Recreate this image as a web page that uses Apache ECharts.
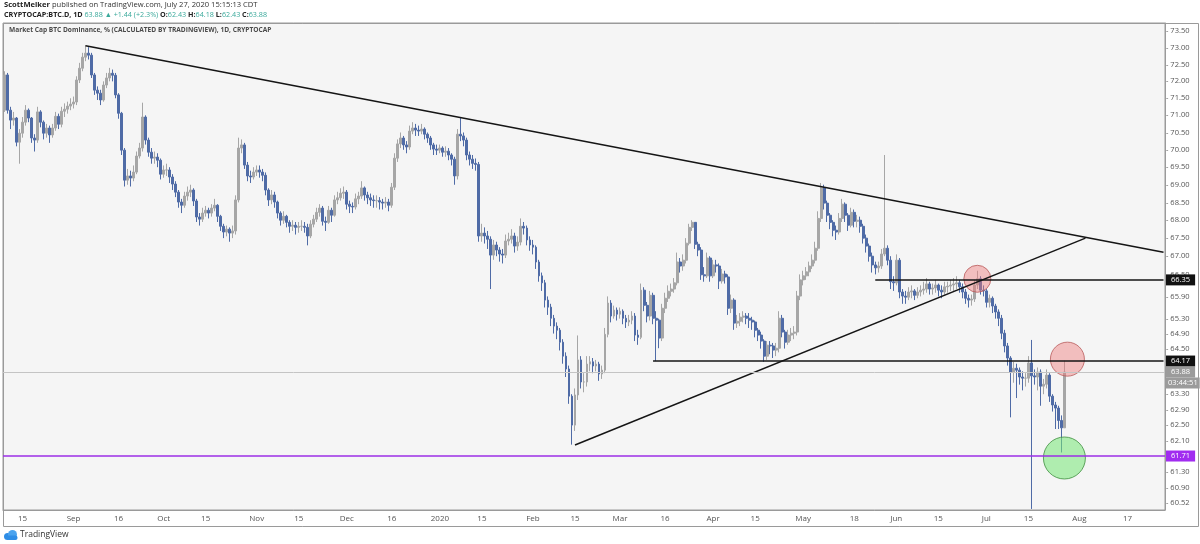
<!DOCTYPE html>
<html>
<head>
<meta charset="utf-8">
<script src="https://cdn.jsdelivr.net/npm/echarts@6/dist/echarts.min.js"></script>
<style>
html,body{margin:0;padding:0;background:#ffffff;}
#c{width:1200px;height:544px;}
</style>
</head>
<body>
<div id="c"></div>
<script>
// ---------- DATA ----------
const startDate = '2019-08-09';      // first category slot
const categoryCount = 387;           // daily slots up to 2020-08-29
const firstOpen = 71.15;

// daily closes 2019-08-09 .. 2020-07-27
const closes = [
72.19,71.15,70.86,70.92,70.22,70.48,70.80,71.15,70.92,70.34,
70.28,71.10,70.80,70.48,70.63,70.43,70.63,70.97,70.74,71.12,
71.18,71.27,71.33,71.39,72.04,72.39,72.72,72.84,72.78,72.19,
71.74,71.65,71.45,71.89,72.10,72.24,72.18,71.60,71.06,69.99,
69.13,69.25,69.19,69.36,69.82,70.05,70.95,70.28,69.93,69.76,
69.79,69.70,69.30,69.42,69.42,69.22,69.02,68.79,68.51,68.42,
68.68,68.79,68.85,68.54,68.09,68.03,68.20,68.28,68.20,68.34,
68.42,68.11,67.83,67.67,67.75,67.64,67.70,68.57,70.05,70.14,
69.56,69.25,69.22,69.36,69.42,69.36,69.27,68.85,68.57,68.71,
68.51,68.20,68.00,68.11,67.94,67.83,67.86,67.80,67.83,67.83,
67.80,67.56,67.89,68.03,68.22,68.34,67.97,67.94,68.28,68.14,
68.57,68.63,68.76,68.79,68.45,68.39,68.37,68.60,68.68,68.91,
68.71,68.63,68.57,68.55,68.55,68.51,68.48,68.51,68.42,68.93,
69.76,70.17,70.34,70.14,70.08,70.54,70.63,70.57,70.54,70.60,
70.45,70.34,70.14,70.02,69.99,70.05,69.93,69.96,69.85,69.73,
69.25,70.45,70.40,70.28,69.85,69.73,69.61,69.58,67.56,67.64,
67.56,67.47,67.03,67.31,67.17,67.06,67.03,67.42,67.47,67.56,
67.28,67.39,67.83,67.78,67.45,67.31,67.25,66.84,66.46,66.27,
65.80,65.61,65.31,65.10,64.99,64.67,64.30,63.96,63.25,62.50,
63.28,64.20,63.62,63.62,64.09,64.15,64.04,64.09,63.83,63.93,
64.88,65.72,65.37,65.53,65.42,65.50,65.31,65.21,65.26,65.37,
64.86,64.80,66.07,65.66,65.37,65.93,65.31,65.26,64.78,65.58,
65.85,66.04,66.10,66.27,66.84,66.73,66.89,67.36,67.80,67.94,
67.33,67.17,66.49,66.46,66.95,66.46,66.76,66.73,66.32,66.51,
66.43,65.58,65.80,65.18,65.23,65.34,65.37,65.31,65.26,65.21,
64.99,64.86,64.70,64.30,64.59,64.57,64.46,64.51,65.31,64.94,
64.67,64.86,64.91,64.94,65.91,66.35,66.46,66.57,66.73,66.89,
67.22,68.05,68.91,68.48,68.14,67.94,67.72,67.67,68.05,68.45,
68.14,67.86,68.22,67.97,68.00,67.83,67.50,67.28,67.00,66.76,
66.68,66.73,67.06,67.22,66.89,66.30,66.27,66.89,66.02,65.91,
65.88,66.02,66.05,65.93,66.02,66.07,66.10,66.24,66.10,66.13,
66.21,66.07,66.02,66.16,66.18,66.21,66.24,66.27,66.16,66.02,
65.85,65.80,65.83,66.21,66.38,66.07,66.05,65.74,65.85,65.64,
65.48,65.31,64.91,64.57,64.25,63.88,63.98,63.93,63.75,63.72,
63.72,64.12,63.78,63.75,63.88,63.51,63.56,63.80,63.25,63.02,
62.94,62.62,62.43,63.88
];

const highs = [
72.30,72.25,71.25,71.10,70.95,70.60,70.95,71.30,71.20,70.95,
70.45,71.25,71.15,70.85,70.75,70.70,70.75,71.10,71.05,71.25,
71.35,71.40,71.50,71.55,72.15,72.55,72.85,73.08,73.02,72.85,
72.25,71.85,71.75,72.00,72.25,72.40,72.35,72.25,71.65,71.10,
70.05,69.45,69.40,69.55,69.95,70.20,71.37,71.00,70.35,70.05,
69.95,69.90,69.75,69.55,69.60,69.50,69.30,69.10,68.85,68.60,
68.80,68.95,69.00,68.90,68.60,68.20,68.35,68.40,68.35,68.45,
68.60,68.45,68.15,67.90,67.85,67.80,67.85,68.70,70.35,70.30,
70.20,69.65,69.40,69.50,69.55,69.55,69.45,69.35,68.90,68.85,
68.80,68.55,68.25,68.25,68.15,68.00,68.00,67.95,67.95,68.00,
67.95,67.90,68.00,68.15,68.35,68.45,68.40,68.10,68.40,68.35,
68.70,68.80,68.90,68.95,68.85,68.55,68.50,68.75,68.80,69.10,
68.95,68.80,68.75,68.70,68.70,68.65,68.60,68.65,68.60,69.05,
69.90,70.30,70.50,70.40,70.25,70.70,70.80,70.75,70.70,70.75,
70.65,70.50,70.40,70.20,70.15,70.15,70.10,70.10,70.05,69.90,
69.80,70.60,70.92,70.50,70.35,69.95,69.85,69.75,69.65,67.90,
67.80,67.70,67.55,67.45,67.40,67.25,67.20,67.60,67.65,67.75,
67.65,67.55,68.05,67.95,67.85,67.55,67.45,67.30,66.90,66.55,
66.35,65.90,65.70,65.40,65.20,65.05,64.75,64.40,64.05,63.30,
63.45,64.85,64.30,63.85,64.30,64.30,64.25,64.20,64.15,64.05,
65.05,65.90,65.80,65.65,65.60,65.60,65.55,65.40,65.40,65.50,
65.45,65.00,66.25,66.15,65.75,66.05,66.00,65.50,65.30,65.70,
66.00,66.20,66.25,66.40,67.10,66.95,67.05,67.50,67.90,68.00,
67.95,67.40,67.25,66.70,67.10,67.00,66.90,66.90,66.80,66.65,
66.60,66.50,65.95,65.85,65.40,65.45,65.50,65.45,65.45,65.35,
65.25,65.05,64.95,64.75,64.70,64.70,64.65,64.65,65.50,65.40,
65.00,65.00,65.05,65.10,66.05,66.50,66.60,66.70,66.85,67.05,
67.40,68.25,69.05,69.00,68.55,68.20,68.00,67.85,68.20,68.60,
68.50,68.20,68.35,68.30,68.15,68.10,67.90,67.60,67.35,67.10,
66.85,66.85,67.20,69.85,67.30,67.00,66.45,67.05,66.95,66.10,
66.05,66.15,66.20,66.10,66.15,66.20,66.30,66.40,66.30,66.25,
66.35,66.25,66.20,66.30,66.30,66.35,66.40,66.45,66.35,66.25,
66.10,65.95,65.95,66.35,66.60,66.45,66.20,66.10,65.95,65.90,
65.70,65.55,65.40,65.00,64.65,64.30,64.15,64.10,64.00,63.90,
63.85,64.30,64.73,63.95,64.00,63.95,63.70,63.95,63.85,63.30,
63.10,63.00,62.75,64.18
];

const lows = [
71.10,71.05,70.60,70.70,70.10,69.60,70.35,70.70,70.80,70.20,
69.95,70.20,70.65,70.30,70.35,70.20,70.35,70.55,70.60,70.65,
70.95,71.05,71.15,71.20,71.30,71.95,72.30,72.60,72.65,72.10,
71.60,71.45,71.30,71.40,71.80,72.00,72.00,71.50,70.90,69.85,
68.95,69.00,68.95,69.10,69.30,69.75,69.95,70.15,69.80,69.60,
69.60,69.50,69.15,69.20,69.25,69.05,68.85,68.65,68.35,68.20,
68.35,68.55,68.65,68.40,67.95,67.85,67.95,68.10,68.05,68.10,
68.25,67.95,67.70,67.50,67.55,67.40,67.50,67.60,68.50,69.90,
69.45,69.10,69.05,69.15,69.25,69.20,69.10,68.70,68.40,68.45,
68.35,68.05,67.85,67.90,67.80,67.65,67.70,67.60,67.65,67.70,
67.65,67.30,67.50,67.80,67.95,68.10,67.85,67.70,67.90,67.95,
68.10,68.45,68.55,68.60,68.30,68.20,68.20,68.30,68.45,68.60,
68.55,68.45,68.40,68.35,68.35,68.30,68.30,68.35,68.25,68.35,
68.85,69.65,70.05,70.00,69.90,70.00,70.45,70.40,70.40,70.45,
70.30,70.20,70.00,69.85,69.85,69.90,69.80,69.80,69.70,69.55,
69.00,69.15,70.25,70.10,69.70,69.55,69.45,69.40,67.40,67.40,
67.35,67.20,66.10,66.90,67.00,66.85,66.80,66.95,67.30,67.35,
67.10,67.15,67.30,67.60,67.30,67.15,67.05,66.65,66.30,66.05,
65.60,65.40,65.10,64.90,64.75,64.45,64.10,63.75,63.05,62.00,
62.35,63.15,63.45,63.35,63.50,63.90,63.85,63.90,63.65,63.70,
63.85,64.80,65.20,65.30,65.25,65.30,65.15,65.05,65.10,65.15,
64.70,64.60,64.75,65.50,65.20,65.25,65.15,64.17,64.51,64.70,
65.45,65.75,65.90,66.00,66.20,66.55,66.60,66.80,67.30,67.70,
67.20,67.00,66.35,66.30,66.40,66.30,66.40,66.55,66.10,66.25,
66.25,65.40,65.45,65.00,65.05,65.10,65.20,65.15,65.05,65.00,
64.80,64.70,64.50,64.15,64.20,64.35,64.25,64.30,64.40,64.80,
64.50,64.60,64.70,64.75,64.85,65.80,66.20,66.35,66.45,66.65,
66.80,67.15,67.95,68.30,67.95,67.75,67.55,67.45,67.60,67.95,
67.95,67.70,67.80,67.80,67.80,67.65,67.35,67.10,66.85,66.55,
66.50,66.55,66.65,67.00,66.75,66.10,66.05,66.20,65.85,65.70,
65.70,65.80,65.85,65.80,65.85,65.90,65.95,66.00,65.95,65.95,
66.00,65.90,65.85,65.95,66.00,66.05,66.05,66.10,66.00,65.85,
65.70,65.60,65.65,65.75,66.10,65.95,65.90,65.60,65.60,65.45,
65.30,65.10,64.75,64.40,64.05,62.70,63.60,63.20,63.55,63.40,
63.50,63.60,60.38,63.55,63.40,63.00,63.30,63.45,63.10,62.85,
62.40,62.40,61.80,62.43
];

// x-axis tick labels (date -> text)
const xTickLabels = [
['2019-08-15','15'],['2019-09-01','Sep'],['2019-09-16','16'],['2019-10-01','Oct'],
['2019-10-15','15'],['2019-11-01','Nov'],['2019-11-15','15'],['2019-12-01','Dec'],
['2019-12-16','16'],['2020-01-01','2020'],['2020-01-15','15'],['2020-02-01','Feb'],
['2020-02-15','15'],['2020-03-01','Mar'],['2020-03-16','16'],['2020-04-01','Apr'],
['2020-04-15','15'],['2020-05-01','May'],['2020-05-18','18'],['2020-06-01','Jun'],
['2020-06-15','15'],['2020-07-01','Jul'],['2020-07-15','15'],['2020-08-01','Aug'],
['2020-08-17','17']
];

// price-scale tick labels
const priceTicks = [73.50,73.00,72.50,72.00,71.50,71.00,70.50,70.00,69.50,69.00,68.50,68.00,67.50,67.00,66.50,
                    65.90,65.30,64.90,64.50,63.30,62.90,62.50,62.10,61.30,60.90,60.52];

// annotation values
const lastPrice = 63.88;
const countdown = '03:44:51';
const resistanceTop = 66.35;
const resistanceMid = 64.17;
const supportLevel = 61.71;
const descLine = [['2019-09-05', 73.06], ['2020-08-29', 67.11]];
const riseLine = [['2020-02-15', 61.99], ['2020-08-03', 67.50]];
const topLevelStart = '2020-05-25';
const midLevelStart = '2020-03-12';
const redCircles = [['2020-06-28', 66.38, 27], ['2020-07-28', 64.22, 34]];
const greenCircles = [['2020-07-27', 61.66, 42]];

// y-range of the price pane
const yMin = 60.354, yMax = 73.75;

// ---------- BUILD ----------
const cats = [];
(function(){
  const p = startDate.split('-').map(Number);
  const t0 = Date.UTC(p[0], p[1]-1, p[2]);
  for (let i = 0; i < categoryCount; i++) {
    cats.push(new Date(t0 + i*86400000).toISOString().slice(0,10));
  }
})();
const lastCat = cats[cats.length-1];
const labelMap = {};
xTickLabels.forEach(function(t){ labelMap[t[0]] = t[1]; });

const ohlc = closes.map(function(c, i){
  const o = i === 0 ? firstOpen : closes[i-1];
  return [o, c, Math.min(lows[i], o, c), Math.max(highs[i], o, c)];
});

const FONT = 'Open Sans';
const UP = '#a6a6a6', DOWN = '#4f6ba6';

const tickLines = priceTicks.map(function(v){
  return { yAxis: v, label: { formatter: '- ' + v.toFixed(2) } };
});

const chart = echarts.init(document.getElementById('c'));
chart.setOption({
  animation: false,
  backgroundColor: '#ffffff',
  textStyle: { fontFamily: FONT },
  grid: { left: 3, right: 35, top: 23, bottom: 34, show: true,
          backgroundColor: '#f5f5f5', borderColor: '#9a9a9a', borderWidth: 1 },
  xAxis: {
    type: 'category', data: cats, boundaryGap: true,
    axisLine: { lineStyle: { color: '#9a9a9a' } },
    axisTick: { alignWithLabel: true, length: 3, lineStyle: { color: '#888' },
                interval: function(i, v){ return labelMap[v] !== undefined; } },
    axisLabel: { color: '#555', fontSize: 8, margin: 5, fontFamily: FONT,
                 interval: function(i, v){ return labelMap[v] !== undefined; },
                 formatter: function(v){ return labelMap[v] || ''; } },
    splitLine: { show: false }
  },
  yAxis: {
    type: 'log', logBase: 10, min: yMin, max: yMax, position: 'right',
    axisLine: { show: true, lineStyle: { color: '#9a9a9a' } },
    axisTick: { show: false }, axisLabel: { show: false }, splitLine: { show: false }
  },
  graphic: [
    { type: 'rect', silent: true, z: 0, shape: { x: 3.5, y: 23.5, width: 1195, height: 503 },
      style: { fill: 'none', stroke: '#9a9a9a', lineWidth: 1 } },
    { type: 'text', left: 4, top: 1, z: 10, style: {
        text: '{b|ScottMelker} published on TradingView.com, July 27, 2020 15:15:13 CDT',
        fill: '#333', fontSize: 7.6, fontFamily: FONT,
        rich: { b: { fontWeight: 'bold', fill: '#222', fontSize: 7.6, fontFamily: FONT } } } },
    { type: 'text', left: 4, top: 11, z: 10, style: {
        text: '{b|CRYPTOCAP:BTC.D, 1D} {g|63.88 \u25B2 +1.44 (+2.3%)} {b|O:}{g|62.43} {b|H:}{g|64.18} {b|L:}{g|62.43} {b|C:}{g|63.88}',
        fill: '#333', fontSize: 7.2, fontFamily: FONT,
        rich: { b: { fill: '#222', fontWeight: 'bold', fontSize: 7.2, fontFamily: FONT },
                g: { fill: '#3aa99b', fontSize: 7.2, fontFamily: FONT } } } },
    { type: 'text', left: 9, top: 27, z: 10, style: {
        text: 'Market Cap BTC Dominance, % (CALCULATED BY TRADINGVIEW), 1D, CRYPTOCAP',
        fill: '#4a4a4a', fontSize: 6.6, fontWeight: 'bold', fontFamily: FONT } },
    { type: 'group', left: 4, top: 530, z: 10, children: [
        { type: 'circle', shape: { cx: 4, cy: 6, r: 3.5 }, style: { fill: '#2e8de6' } },
        { type: 'circle', shape: { cx: 9, cy: 4, r: 4.5 }, style: { fill: '#4aa3ef' } },
        { type: 'rect', shape: { x: 3, y: 5, width: 11, height: 4.5, r: 2 }, style: { fill: '#2e8de6' } }
    ]},
    { type: 'text', left: 20, top: 530, z: 10, style: { text: 'TradingView', fill: '#333', fontSize: 8.5, fontFamily: FONT } }
  ],
  series: [
    {
      type: 'candlestick', name: 'BTC.D', data: ohlc, barWidth: 2.4, z: 2, clip: true,
      itemStyle: { color: UP, color0: DOWN, borderColor: UP, borderColor0: DOWN, borderWidth: 1 }
    },
    {
      type: 'scatter', name: 'lines', data: [], z: 3, silent: true,
      markLine: {
        silent: true, symbol: ['none', 'none'], animation: false,
        label: { show: false },
        data: [
          [{ coord: descLine[0], lineStyle: { color: '#151515', width: 1.5, type: 'solid' } }, { coord: descLine[1] }],
          [{ coord: riseLine[0], lineStyle: { color: '#151515', width: 1.5, type: 'solid' } }, { coord: riseLine[1] }],
          [{ coord: [topLevelStart, resistanceTop], lineStyle: { color: '#151515', width: 1.5, type: 'solid' } }, { coord: [lastCat, resistanceTop] }],
          [{ coord: [midLevelStart, resistanceMid], lineStyle: { color: '#151515', width: 1.5, type: 'solid' } }, { coord: [lastCat, resistanceMid] }],
          { yAxis: supportLevel, lineStyle: { color: '#9b2ee6', width: 1.5, type: 'solid' } },
          { yAxis: lastPrice, lineStyle: { color: '#c4c4c4', width: 1, type: 'solid' } }
        ]
      }
    },
    {
      type: 'scatter', name: 'red', z: 4, silent: true,
      data: redCircles.map(function(c){ return { value: [c[0], c[1]], symbolSize: c[2] }; }),
      itemStyle: { color: 'rgba(240,120,120,0.55)', borderColor: '#b85a5a', borderWidth: 1 }
    },
    {
      type: 'scatter', name: 'green', z: 4, silent: true,
      data: greenCircles.map(function(c){ return { value: [c[0], c[1]], symbolSize: c[2] }; }),
      itemStyle: { color: 'rgba(120,230,120,0.7)', borderColor: '#3f8f3f', borderWidth: 1 }
    },
    {
      type: 'scatter', name: 'ticks', data: [], z: 5, silent: true, clip: false,
      markLine: {
        silent: true, symbol: ['none', 'none'], animation: false,
        lineStyle: { width: 0, color: 'rgba(0,0,0,0)' },
        label: { show: true, position: 'end', distance: 1, color: '#555', fontSize: 7.5, fontFamily: FONT },
        data: tickLines
      }
    },
    {
      type: 'scatter', name: 'badges', data: [], z: 6, silent: true, clip: false,
      markLine: {
        silent: true, symbol: ['none', 'none'], animation: false,
        lineStyle: { width: 0, color: 'rgba(0,0,0,0)' },
        label: { show: true, position: 'end', distance: 1, fontSize: 7.5, fontFamily: FONT },
        data: [
          { yAxis: resistanceTop, label: { formatter: resistanceTop.toFixed(2), color: '#fff', backgroundColor: '#111', padding: [2, 5, 1, 5] } },
          { yAxis: resistanceMid, label: { formatter: resistanceMid.toFixed(2), color: '#fff', backgroundColor: '#111', padding: [2, 5, 1, 5] } },
          { yAxis: supportLevel, label: { formatter: supportLevel.toFixed(2), color: '#fff', backgroundColor: '#a12cf0', padding: [2, 5, 1, 5] } },
          { yAxis: lastPrice, label: {
              formatter: '{e|}\n{a|' + lastPrice.toFixed(2) + '}\n{b|' + countdown + '}',
              rich: {
                e: { lineHeight: 11, height: 11 },
                a: { color: '#fff', backgroundColor: '#9b9b9b', lineHeight: 11, height: 11, padding: [0, 5], fontSize: 7.5 },
                b: { color: '#fff', backgroundColor: '#9b9b9b', lineHeight: 11, height: 11, padding: [0, 2], fontSize: 7.5 }
              } } }
        ]
      }
    }
  ]
});
</script>
</body>
</html>
